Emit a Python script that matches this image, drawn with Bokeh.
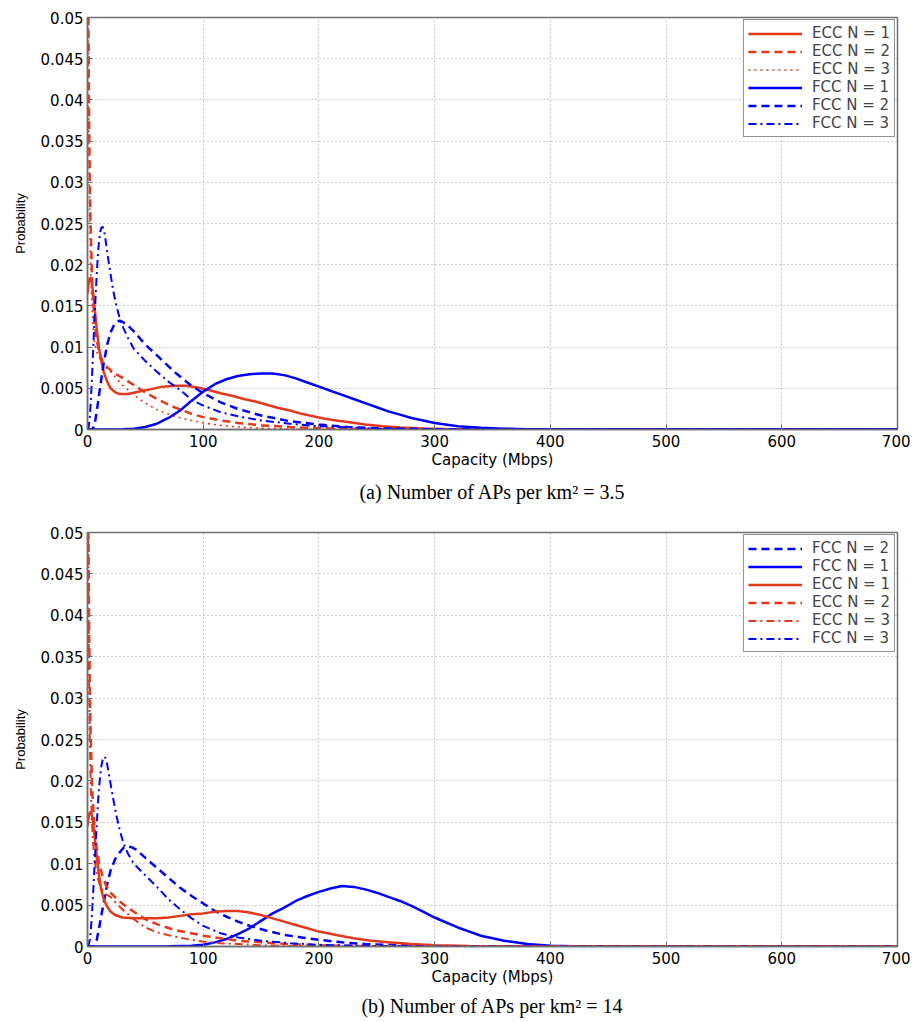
from bokeh.plotting import figure
from bokeh.layouts import column
from bokeh.models import (Range1d, FixedTicker, CustomJSTickFormatter, Legend, LegendItem, Title)
from bokeh.embed import file_html
from bokeh.resources import INLINE

# ---------------- data: panel (a), 3.5 APs per km^2 ----------------
a_ecc1_x = [0, 1, 2, 3, 4, 6, 8, 10, 12, 14, 17, 20, 24, 28, 35, 45, 55, 65, 75, 85, 95, 105, 115, 125,
            135, 145, 155, 165, 175, 185, 195, 205, 215, 225, 240, 255, 270, 290, 310, 340, 380, 450, 700]
a_ecc1_y = [0.0165, 0.0178, 0.0184, 0.0183, 0.0175, 0.0150, 0.0122, 0.0098, 0.0082, 0.0070, 0.0058, 0.0050,
            0.0045, 0.0043, 0.0043, 0.0046, 0.0049, 0.0052, 0.0053, 0.0053, 0.0051, 0.0048, 0.0044, 0.0041,
            0.0037, 0.0034, 0.0030, 0.0026, 0.0023, 0.0019, 0.0016, 0.0013, 0.0011, 0.0009, 0.0006, 0.0004,
            0.00025, 0.00012, 0.00006, 0.00002, 0.0, 0.0, 0.0]

a_ecc2_x = [0.3, 0.8, 1.5, 2.5, 4, 6, 8, 10, 13, 16, 20, 25, 30, 40, 50, 60, 75, 90, 100, 115, 130, 150,
            175, 200, 230, 260, 300, 400, 700]
a_ecc2_y = [0.08, 0.05, 0.036, 0.026, 0.018, 0.0132, 0.0108, 0.0094, 0.0083, 0.0077, 0.0072, 0.0067, 0.0063,
            0.0054, 0.0045, 0.0037, 0.0027, 0.0019, 0.0015, 0.0011, 0.0008, 0.0005, 0.0003, 0.00015, 0.00006,
            0.00002, 0.0, 0.0, 0.0]

a_ecc3_x = [0.2, 0.6, 1.2, 2, 3, 4.5, 6, 8, 10, 13, 16, 20, 25, 30, 40, 50, 60, 75, 90, 100, 115, 130, 150,
            175, 200, 250, 700]
a_ecc3_y = [0.08, 0.05, 0.035, 0.025, 0.018, 0.013, 0.0105, 0.0094, 0.0088, 0.0080, 0.0075, 0.0070, 0.0062,
            0.0054, 0.0042, 0.0032, 0.0024, 0.0016, 0.0011, 0.0008, 0.0005, 0.0003, 0.00015, 0.00006, 0.00002,
            0.0, 0.0]

a_fcc1_x = [0, 20, 30, 40, 50, 60, 70, 80, 90, 100, 110, 120, 130, 140, 150, 160, 170, 180, 190, 200, 210,
            220, 230, 240, 250, 260, 270, 280, 290, 300, 320, 340, 360, 380, 400, 450, 700]
a_fcc1_y = [0.0, 0.0, 0.00003, 0.0001, 0.0003, 0.0007, 0.0014, 0.0023, 0.0035, 0.0046, 0.0055, 0.0061,
            0.0065, 0.0067, 0.0068, 0.0068, 0.0066, 0.0062, 0.0057, 0.0052, 0.0047, 0.0042, 0.0037, 0.0032,
            0.0027, 0.0022, 0.0018, 0.0014, 0.0011, 0.0008, 0.0004, 0.0002, 0.0001, 0.00004, 0.00001, 0.0, 0.0]

a_fcc2_x = [0, 4, 6, 8, 10, 12, 14, 17, 20, 23, 26, 28, 31, 35, 40, 45, 50, 60, 75, 90, 100, 115, 130, 150,
            175, 200, 225, 250, 300, 350, 700]
a_fcc2_y = [0.0, 0.0, 0.0005, 0.0022, 0.0042, 0.0062, 0.0080, 0.0103, 0.0118, 0.0127, 0.0131, 0.0132, 0.0130,
            0.0126, 0.0119, 0.0111, 0.0103, 0.0090, 0.0070, 0.0053, 0.0044, 0.0033, 0.0025, 0.0017, 0.0010,
            0.0006, 0.0003, 0.00015, 0.00003, 0.0, 0.0]

a_fcc3_x = [0, 1, 2, 3, 4, 5, 6, 7, 8, 9, 10, 11, 12, 13, 14, 15, 16, 18, 20, 22, 25, 28, 31, 35, 40, 50,
            60, 70, 80, 90, 100, 115, 130, 150, 175, 200, 250, 300, 700]
a_fcc3_y = [0.0, 0.0003, 0.0015, 0.0038, 0.0068, 0.0100, 0.0132, 0.0162, 0.0189, 0.0212, 0.0229, 0.0240,
            0.0245, 0.0246, 0.0243, 0.0236, 0.0226, 0.0206, 0.0188, 0.0170, 0.0150, 0.0134, 0.0123, 0.0111,
            0.0098, 0.0083, 0.0070, 0.0058, 0.0048, 0.0036, 0.0029, 0.0021, 0.0016, 0.0011, 0.0007, 0.0004,
            0.0001, 0.0, 0.0]

# ---------------- data: panel (b), 14 APs per km^2 ----------------
b_ecc1_x = [0, 1, 2, 3, 4, 5, 6, 8, 10, 12, 14, 17, 20, 24, 30, 40, 50, 60, 70, 80, 90, 100, 110, 120, 130,
            140, 150, 160, 170, 180, 190, 200, 215, 230, 245, 260, 280, 300, 330, 370, 450, 700]
b_ecc1_y = [0.0145, 0.0157, 0.0162, 0.0162, 0.0157, 0.0148, 0.0135, 0.0108, 0.0085, 0.0068, 0.0057, 0.0048,
            0.0042, 0.0038, 0.0035, 0.0034, 0.0034, 0.0034, 0.0035, 0.0037, 0.0039, 0.0040, 0.0042, 0.0043,
            0.0043, 0.0041, 0.0038, 0.0034, 0.0030, 0.0026, 0.0022, 0.0018, 0.0014, 0.0010, 0.0007, 0.0005,
            0.0003, 0.00015, 0.00006, 0.00002, 0.0, 0.0]

b_ecc2_x = [0.3, 0.8, 1.5, 2.5, 4, 6, 8, 10, 13, 16, 20, 25, 30, 40, 50, 60, 75, 90, 100, 115, 130, 150,
            175, 200, 230, 260, 300, 700]
b_ecc2_y = [0.08, 0.05, 0.037, 0.027, 0.019, 0.0145, 0.0118, 0.0101, 0.0085, 0.0074, 0.0065, 0.0058, 0.0052,
            0.0042, 0.0033, 0.0027, 0.0020, 0.0016, 0.0013, 0.0010, 0.0007, 0.0005, 0.0003, 0.00015, 0.00006,
            0.00002, 0.0, 0.0]

b_ecc3_x = [0.2, 0.6, 1.2, 2, 3, 4.5, 6, 8, 10, 13, 16, 20, 25, 30, 40, 50, 60, 75, 90, 100, 115, 130, 150,
            175, 200, 250, 700]
b_ecc3_y = [0.08, 0.05, 0.035, 0.025, 0.018, 0.013, 0.0105, 0.0088, 0.0077, 0.0068, 0.0063, 0.0060, 0.0052,
            0.0045, 0.0033, 0.0023, 0.0017, 0.0012, 0.0008, 0.0006, 0.0004, 0.0003, 0.00015, 0.00007, 0.00003,
            0.0, 0.0]

b_fcc1_x = [0, 50, 70, 90, 100, 110, 120, 130, 140, 150, 160, 170, 180, 190, 200, 210, 220, 230, 240, 250,
            260, 270, 280, 290, 300, 310, 320, 330, 340, 350, 360, 380, 400, 420, 450, 700]
b_fcc1_y = [0.0, 0.0, 0.00003, 0.0001, 0.0002, 0.0005, 0.0009, 0.0015, 0.0022, 0.0031, 0.0040, 0.0047,
            0.0055, 0.0061, 0.0066, 0.0070, 0.0073, 0.0072, 0.0069, 0.0065, 0.0060, 0.0055, 0.0049, 0.0042,
            0.0035, 0.0029, 0.0023, 0.0018, 0.0013, 0.0010, 0.0007, 0.0003, 0.0001, 0.00004, 0.00001, 0.0]

b_fcc2_x = [0, 6, 8, 10, 12, 14, 17, 20, 24, 28, 31, 34, 38, 42, 50, 60, 70, 80, 90, 100, 110, 120, 130, 140,
            155, 170, 185, 200, 220, 240, 260, 280, 300, 350, 700]
b_fcc2_y = [0.0, 0.0, 0.0008, 0.0022, 0.0038, 0.0053, 0.0075, 0.0092, 0.0106, 0.0114, 0.0119, 0.0121, 0.0120,
            0.0117, 0.0107, 0.0095, 0.0083, 0.0071, 0.0061, 0.0052, 0.0043, 0.0036, 0.0030, 0.0025, 0.0019,
            0.0014, 0.0011, 0.0008, 0.0005, 0.0003, 0.0002, 0.0001, 0.00005, 0.0, 0.0]

b_fcc3_x = [0, 1, 2, 3, 4, 5, 6, 7, 8, 9, 10, 11, 12, 13, 14, 15, 16, 17, 18, 20, 22, 25, 28, 31, 35, 40, 50,
            60, 70, 80, 90, 100, 115, 130, 150, 175, 200, 250, 300, 700]
b_fcc3_y = [0.0, 0.0002, 0.0008, 0.0022, 0.0042, 0.0068, 0.0095, 0.0122, 0.0148, 0.0172, 0.0192, 0.0207,
            0.0218, 0.0225, 0.0229, 0.0229, 0.0226, 0.0220, 0.0212, 0.0196, 0.0180, 0.0158, 0.0140, 0.0125,
            0.0112, 0.0100, 0.0086, 0.0072, 0.0057, 0.0045, 0.0034, 0.0025, 0.0016, 0.0011, 0.0007, 0.0004,
            0.0002, 0.00005, 0.0, 0.0]

x_ticks = [0, 100, 200, 300, 400, 500, 600, 700]
y_ticks = [0, 0.005, 0.01, 0.015, 0.02, 0.025, 0.03, 0.035, 0.04, 0.045, 0.05]

caption_a = "(a) Number of APs per km\u00b2 = 3.5"
caption_b = "(b) Number of APs per km\u00b2 = 14"

RED = "#e2391c"
BLUE = "#0000ff"
AXIS_COL = "#707070"
SANS = "DejaVu Sans"

STYLES = {
    "solid": dict(line_dash="solid", line_width=2.5),
    "dashed": dict(line_dash="8 5", line_width=2.5),
    "dotted": dict(line_dash="2 4", line_width=1.6),
    "dashdot": dict(line_dash="8 4 2 4", line_width=2.0),
}


def make_panel(series, caption, top, bottom, frame_h, cap_standoff):
    p = figure(width=910, height=top + frame_h + bottom, output_backend="svg", toolbar_location=None,
               x_range=Range1d(0, 700), y_range=Range1d(0, 0.05),
               min_border_left=87, min_border_right=13, min_border_top=top, min_border_bottom=bottom,
               background_fill_color="white", border_fill_color="white")
    p.outline_line_color = AXIS_COL
    p.outline_line_width = 1.5

    fmt = CustomJSTickFormatter(code="return String(Number(tick.toFixed(4)));")
    for ax in (p.xaxis[0], p.yaxis[0]):
        ax.axis_line_color = AXIS_COL
        ax.axis_line_width = 1.5
        ax.major_tick_line_color = AXIS_COL
        ax.major_tick_in = 5
        ax.major_tick_out = 0
        ax.minor_tick_line_color = None
        ax.major_label_text_font = SANS
        ax.major_label_text_font_size = "15px"
        ax.major_label_text_color = "black"
        ax.axis_label_text_font = SANS
        ax.axis_label_text_font_style = "normal"
        ax.axis_label_text_color = "black"
        ax.formatter = fmt
    p.xaxis[0].ticker = FixedTicker(ticks=x_ticks)
    p.yaxis[0].ticker = FixedTicker(ticks=y_ticks)
    p.xaxis[0].axis_label = "Capacity (Mbps)"
    p.xaxis[0].axis_label_text_font_size = "15px"
    p.xaxis[0].axis_label_standoff = 1
    p.xaxis[0].major_label_standoff = 5
    p.yaxis[0].axis_label = "Probability"
    p.yaxis[0].axis_label_text_font = "Liberation Sans"
    p.yaxis[0].axis_label_text_font_size = "13px"
    p.yaxis[0].axis_label_standoff = 10
    p.yaxis[0].major_label_standoff = 4

    p.xgrid.ticker = FixedTicker(ticks=x_ticks)
    p.ygrid.ticker = FixedTicker(ticks=y_ticks)
    for g in (p.xgrid[0], p.ygrid[0]):
        g.grid_line_color = "#9a9a9a"
        g.grid_line_dash = "1 3"
        g.grid_line_width = 1

    items = []
    for label, xs, ys, color, style in series:
        r = p.line(xs, ys, line_color=color, line_cap="butt", **STYLES[style])
        items.append(LegendItem(label=label, renderers=[r]))
    leg = Legend(items=items, location="top_right", margin=2, padding=4, spacing=0,
                 label_height=15, glyph_height=15, glyph_width=54, label_standoff=10,
                 label_text_font=SANS, label_text_font_size="15px",
                 border_line_color="#222222", border_line_width=1,
                 background_fill_color="white", background_fill_alpha=1.0)
    p.add_layout(leg, "center")

    t = Title(text=caption, align="center", text_font="Liberation Serif", text_font_size="20px",
              text_font_style="normal", text_color="black", standoff=cap_standoff)
    p.add_layout(t, "below")
    return p


series_a = [
    ("ECC N = 1", a_ecc1_x, a_ecc1_y, RED, "solid"),
    ("ECC N = 2", a_ecc2_x, a_ecc2_y, RED, "dashed"),
    ("ECC N = 3", a_ecc3_x, a_ecc3_y, RED, "dotted"),
    ("FCC N = 1", a_fcc1_x, a_fcc1_y, BLUE, "solid"),
    ("FCC N = 2", a_fcc2_x, a_fcc2_y, BLUE, "dashed"),
    ("FCC N = 3", a_fcc3_x, a_fcc3_y, BLUE, "dashdot"),
]
series_b = [
    ("FCC N = 2", b_fcc2_x, b_fcc2_y, BLUE, "dashed"),
    ("FCC N = 1", b_fcc1_x, b_fcc1_y, BLUE, "solid"),
    ("ECC N = 1", b_ecc1_x, b_ecc1_y, RED, "solid"),
    ("ECC N = 2", b_ecc2_x, b_ecc2_y, RED, "dashed"),
    ("ECC N = 3", b_ecc3_x, b_ecc3_y, RED, "dashdot"),
    ("FCC N = 3", b_fcc3_x, b_fcc3_y, BLUE, "dashdot"),
]

pa = make_panel(series_a, caption_a, top=17, bottom=86, frame_h=412, cap_standoff=15)
pb = make_panel(series_b, caption_b, top=17, bottom=74, frame_h=414, cap_standoff=8)

layout = column(pa, pb, spacing=0)
open("out.html", "w").write(file_html(layout, INLINE))
